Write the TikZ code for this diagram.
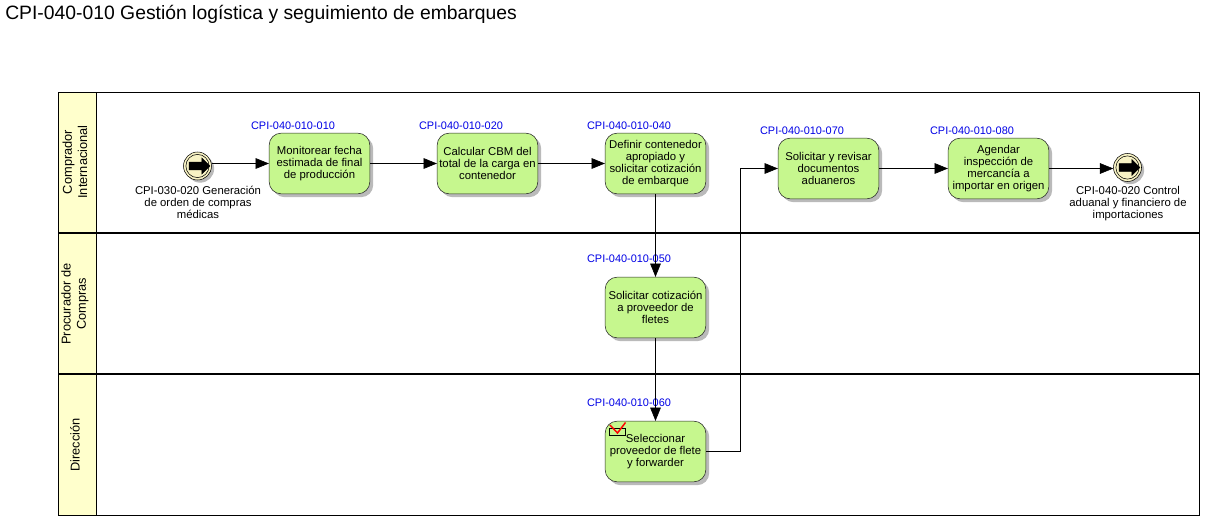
\documentclass[tikz,border=0pt]{standalone}
\usepackage{fontspec}
\setmainfont{Liberation Sans}
\usetikzlibrary{arrows.meta,shadows,shapes.arrows}
\definecolor{verdetarea}{HTML}{C6F78E}
\definecolor{cabecera}{HTML}{FFFFCC}
\definecolor{crema}{HTML}{F7F2C4}
\tikzset{
  tarea/.style={draw=black!85,rounded corners=9pt,fill=verdetarea,minimum width=75.5pt,minimum height=45.5pt,
    inner sep=0pt,align=center,font=\fontsize{8.5}{9}\selectfont,
    drop shadow={shadow xshift=2.5pt,shadow yshift=-2.5pt,fill=black!45,opacity=.6}},
  codigo/.style={text=blue!90!black,font=\fontsize{8.2}{9}\selectfont},
  rotulo/.style={align=center,font=\fontsize{8.5}{9}\selectfont},
  carril/.style={rotate=90,align=center,font=\fontsize{9.6}{11.5}\selectfont},
  evento/.style={circle,draw=black,fill=crema,minimum size=21pt,inner sep=0pt,
    drop shadow={shadow xshift=2pt,shadow yshift=-2pt,fill=black!45,opacity=.6}},
  flecha/.style={single arrow,fill=black,draw=black,inner xsep=0pt,inner ysep=2.7pt,minimum width=12pt,minimum height=15.5pt,single arrow head extend=3pt},
  flujo/.style={draw=black,-{Triangle[length=10pt,width=8pt]}}
}
\begin{document}
\begin{tikzpicture}[x=0.75pt,y=-0.75pt]
    \useasboundingbox (0,0) rectangle (1206,521);

    % titulo
    \node[anchor=west,inner sep=0pt,font=\fontsize{14.5}{16}\selectfont] (titulo) at (5,14) {CPI-040-010 Gestión logística y seguimiento de embarques};

    % carriles
    \fill[cabecera] (58,92) rectangle (96,515);
    \draw[line width=.75pt] (58,92) rectangle (1199,515);
    \draw (96,92) -- (96,515);
    \draw[line width=1.5pt] (58,233) -- (1199,233);
    \draw[line width=1.5pt] (58,374) -- (1199,374);
    \node[carril] (comprador) at (75,162) {Comprador\\Internacional};
    \node[carril] (procurador) at (75,304) {Procurador de\\Compras};
    \node[carril] (direccion) at (75,445) {Dirección};

    % eventos
    \node[evento] (inicio) at (197.5,166) {};
    \draw (inicio) circle (8.7pt);
    \node[flecha] (flechainicio) at (197.5,166) {};
    \node[evento] (fin) at (1127.5,167.5) {};
    \draw (fin) circle (8.7pt);
    \node[flecha] (flechafin) at (1127.5,167.5) {};
    \node[rotulo] (rotuloinicio) at (198,202) {CPI-030-020 Generación\\de orden de compras\\médicas};
    \node[rotulo] (rotulofin) at (1128,204) {CPI-040-020 Control\\aduanal y financiero de\\importaciones};

    % tareas
    \node[tarea] (monitorear) at (319.5,163.5) {Monitorear fecha\\estimada de final\\de producción};
    \node[tarea] (calcular) at (487.5,163.5) {Calcular CBM del\\total de la carga en\\contenedor};
    \node[tarea] (definir) at (655.5,163.5) {Definir contenedor\\apropiado y\\solicitar cotización\\de embarque};
    \node[tarea] (cotizacion) at (655.5,307.5) {Solicitar cotización\\a proveedor de\\fletes};
    \node[tarea] (seleccionar) at (655.5,451.5) {Seleccionar\\proveedor de flete\\y forwarder};
    \node[tarea] (revisar) at (828.5,168.5) {Solicitar y revisar\\documentos\\aduaneros};
    \node[tarea] (agendar) at (998.5,168.5) {Agendar\\inspección de\\mercancía a\\importar en origen};

    % codigos
    \node[codigo] (cod10) at (293,126) {CPI-040-010-010};
    \node[codigo] (cod20) at (461,126) {CPI-040-010-020};
    \node[codigo] (cod40) at (629,126) {CPI-040-010-040};
    \node[codigo] (cod50) at (629,258.5) {CPI-040-010-050};
    \node[codigo] (cod60) at (629,402.5) {CPI-040-010-060};
    \node[codigo] (cod70) at (802,131) {CPI-040-010-070};
    \node[codigo] (cod80) at (972,131) {CPI-040-010-080};

    % marca de decision
    \draw (609,428.5) rectangle (625.5,435);
    \draw[red,line width=1.1pt] (610,425) -- (617.5,433) -- (625.5,422.5);

    % conectores
    \draw[flujo] (inicio.east |- monitorear.west) -- (monitorear.west);
    \draw[flujo] (monitorear) -- (calcular);
    \draw[flujo] (calcular) -- (definir);
    \draw[flujo] (definir) -- (cotizacion);
    \draw[flujo] (cotizacion) -- (seleccionar);
    \coordinate (codo) at (740,300);
    \draw[flujo] (seleccionar.east) -| (codo) |- (revisar.west);
    \draw[flujo] (revisar) -- (agendar);
    \draw[flujo] (agendar.east) -- (fin.west |- agendar.east);
\end{tikzpicture}
\end{document}
